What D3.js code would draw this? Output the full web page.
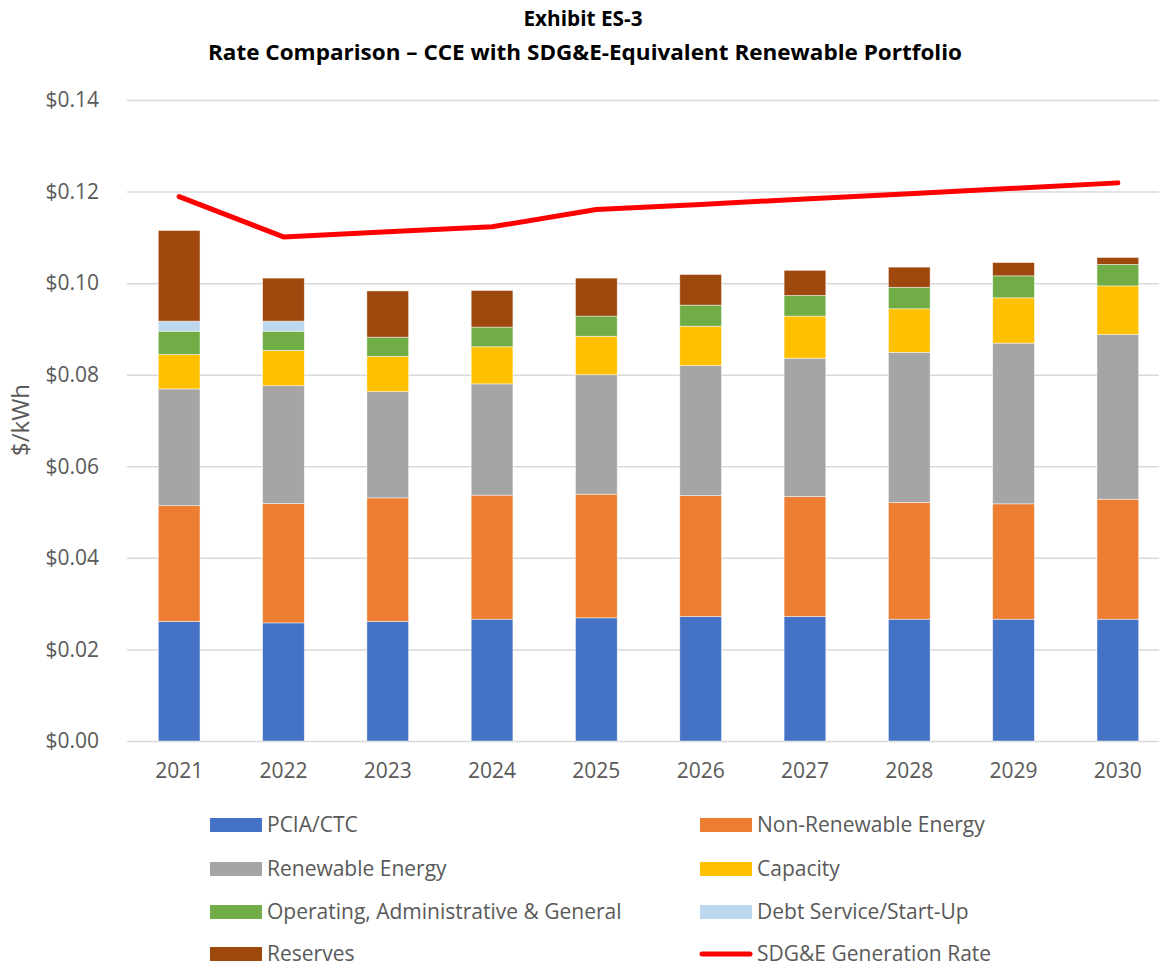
<!DOCTYPE html>
<html lang="en">
<head>
    <meta charset="UTF-8">
    <title>Exhibit ES-3 | Rate Comparison</title>
    <style>
        body { margin: 0; background: #fff; }
        text { font-family: "Open Sans", "DejaVu Sans", sans-serif; }
    </style>
</head>
<body>
    <div id="chart"></div>

    <script type="text/javascript" src="https://d3js.org/d3.v7.min.js"></script>
    <script type="text/javascript">
        // Data ($/kWh)
        var years = ["2021", "2022", "2023", "2024", "2025", "2026", "2027", "2028", "2029", "2030"];
        var pcia = [0.0261, 0.0258, 0.0261, 0.0266, 0.0269, 0.0272, 0.0272, 0.0266, 0.0266, 0.0266];
        var nonRenewable = [0.0253, 0.0261, 0.0270, 0.0271, 0.0270, 0.0264, 0.0262, 0.0255, 0.0252, 0.0262];
        var renewable = [0.0255, 0.0257, 0.0232, 0.0243, 0.0261, 0.0284, 0.0302, 0.0328, 0.0351, 0.0360];
        var capacity = [0.0075, 0.0077, 0.0077, 0.0081, 0.0084, 0.0086, 0.0092, 0.0095, 0.0099, 0.0106];
        var operating = [0.0051, 0.0042, 0.0042, 0.0043, 0.0044, 0.0046, 0.0045, 0.0047, 0.0048, 0.0047];
        var debtService = [0.0022, 0.0022, 0, 0, 0, 0, 0, 0, 0, 0];
        var reserves = [0.0198, 0.0094, 0.0101, 0.0080, 0.0083, 0.0067, 0.0055, 0.0044, 0.0029, 0.0015];
        var sdgeRate = [0.1189, 0.1101, 0.1112, 0.1123, 0.1161, 0.1172, 0.1184, 0.1195, 0.1207, 0.1219];
        var yTicks = [0, 0.02, 0.04, 0.06, 0.08, 0.10, 0.12, 0.14];

        var series = [
            { key: "pcia", name: "PCIA/CTC", values: pcia, color: "#4472C4" },
            { key: "nonRenewable", name: "Non-Renewable Energy", values: nonRenewable, color: "#ED7D31" },
            { key: "renewable", name: "Renewable Energy", values: renewable, color: "#A5A5A5" },
            { key: "capacity", name: "Capacity", values: capacity, color: "#FFC000" },
            { key: "operating", name: "Operating, Administrative & General", values: operating, color: "#70AD47" },
            { key: "debtService", name: "Debt Service/Start-Up", values: debtService, color: "#BDD7EE" },
            { key: "reserves", name: "Reserves", values: reserves, color: "#9E480E" }
        ];
        var lineName = "SDG&E Generation Rate";

        var svgWidth = 1159, svgHeight = 967;
        var plot = { left: 127, right: 1170, top: 100, bottom: 741 };

        var svg = d3.select("#chart").append("svg")
            .attr("width", svgWidth)
            .attr("height", svgHeight);

        // Build rows for the stack
        var rows = years.map(function(y, i) {
            var row = { year: y };
            series.forEach(function(s) { row[s.key] = s.values[i]; });
            return row;
        });

        var stacked = d3.stack().keys(series.map(function(s) { return s.key; }))(rows);

        var x = d3.scaleBand()
            .domain(years)
            .range([plot.left, plot.right])
            .paddingInner(0.6)
            .paddingOuter(0.3);

        var y = d3.scaleLinear()
            .domain([0, 0.14])
            .range([plot.bottom, plot.top]);

        // Titles
        svg.append("text")
            .attr("x", 583)
            .attr("y", 26)
            .attr("text-anchor", "middle")
            .attr("font-weight", "bold")
            .attr("font-size", 21)
            .attr("fill", "#000")
            .attr("textLength", 119)
            .attr("lengthAdjust", "spacingAndGlyphs")
            .text("Exhibit ES-3");

        svg.append("text")
            .attr("x", 585)
            .attr("y", 60)
            .attr("text-anchor", "middle")
            .attr("font-weight", "bold")
            .attr("font-size", 21)
            .attr("fill", "#000")
            .attr("textLength", 754)
            .attr("lengthAdjust", "spacingAndGlyphs")
            .text("Rate Comparison \u2013 CCE with SDG&E-Equivalent Renewable Portfolio");

        // Y axis with gridlines
        var yAxis = d3.axisLeft(y)
            .tickValues(yTicks)
            .tickSize(-(plot.right - plot.left))
            .tickPadding(28)
            .tickFormat(function(d) { return "$" + d.toFixed(2); });

        var yAxisGroup = svg.append("g")
            .attr("class", "y-axis")
            .attr("transform", "translate(" + plot.left + ",0)")
            .call(yAxis);
        yAxisGroup.select(".domain").remove();
        yAxisGroup.selectAll(".tick line")
            .attr("stroke", "#D9D9D9")
            .attr("stroke-width", 1.5);
        yAxisGroup.selectAll(".tick text")
            .attr("fill", "#595959")
            .attr("font-size", 21)
            .attr("font-family", "Open Sans, sans-serif");

        // Y axis title
        svg.append("text")
            .attr("transform", "translate(29,420) rotate(-90)")
            .attr("text-anchor", "middle")
            .attr("font-size", 24)
            .attr("fill", "#595959")
            .text("$/kWh");

        // X axis
        var xAxis = d3.axisBottom(x).tickSize(0).tickPadding(22);
        var xAxisGroup = svg.append("g")
            .attr("class", "x-axis")
            .attr("transform", "translate(0," + plot.bottom + ")")
            .call(xAxis);
        xAxisGroup.select(".domain").remove();
        xAxisGroup.selectAll(".tick text")
            .attr("fill", "#595959")
            .attr("font-size", 21)
            .attr("font-family", "Open Sans, sans-serif");

        // Stacked bars
        var colorByKey = {};
        series.forEach(function(s) { colorByKey[s.key] = s.color; });

        svg.append("g")
            .attr("class", "bars")
            .selectAll("g")
            .data(stacked)
            .enter()
            .append("g")
                .attr("fill", function(d) { return colorByKey[d.key]; })
                .selectAll("rect")
                .data(function(d) { return d.filter(function(p) { return p[1] - p[0] > 0; }); })
                .enter()
                .append("rect")
                    .attr("x", function(d) { return x(d.data.year); })
                    .attr("width", x.bandwidth())
                    .attr("y", function(d) { return y(d[1]); })
                    .attr("height", function(d) { return y(d[0]) - y(d[1]); })
                    .attr("stroke", "#fff")
                    .attr("stroke-opacity", 0.6)
                    .attr("stroke-width", 0.75);

        // SDG&E generation rate line
        var line = d3.line()
            .x(function(d, i) { return x(years[i]) + x.bandwidth() / 2; })
            .y(function(d) { return y(d); });

        svg.append("path")
            .datum(sdgeRate)
            .attr("d", line)
            .attr("fill", "none")
            .attr("stroke", "#FF0000")
            .attr("stroke-width", 5)
            .attr("stroke-linecap", "round")
            .attr("stroke-linejoin", "round");

        // Legend: two columns, series in reading order
        var legendItems = series.map(function(s) { return { name: s.name, color: s.color, type: "rect" }; });
        legendItems.push({ name: lineName, color: "#FF0000", type: "line" });

        var legendCols = [210, 700];
        var legendRows = [825, 869, 912, 954];

        var legend = svg.append("g").attr("class", "legend");
        var items = legend.selectAll("g")
            .data(legendItems)
            .enter()
            .append("g")
                .attr("transform", function(d, i) {
                    return "translate(" + legendCols[i % 2] + "," + legendRows[Math.floor(i / 2)] + ")";
                });

        items.filter(function(d) { return d.type === "rect"; })
            .append("rect")
                .attr("x", 0)
                .attr("y", -7)
                .attr("width", 52)
                .attr("height", 14)
                .attr("fill", function(d) { return d.color; });

        items.filter(function(d) { return d.type === "line"; })
            .append("line")
                .attr("x1", 2)
                .attr("x2", 50)
                .attr("y1", 0)
                .attr("y2", 0)
                .attr("stroke", function(d) { return d.color; })
                .attr("stroke-width", 5)
                .attr("stroke-linecap", "round");

        items.append("text")
            .attr("x", 57)
            .attr("y", 0)
            .attr("dy", "0.35em")
            .attr("font-size", 21)
            .attr("fill", "#595959")
            .text(function(d) { return d.name; });
    </script>
</body>
</html>
